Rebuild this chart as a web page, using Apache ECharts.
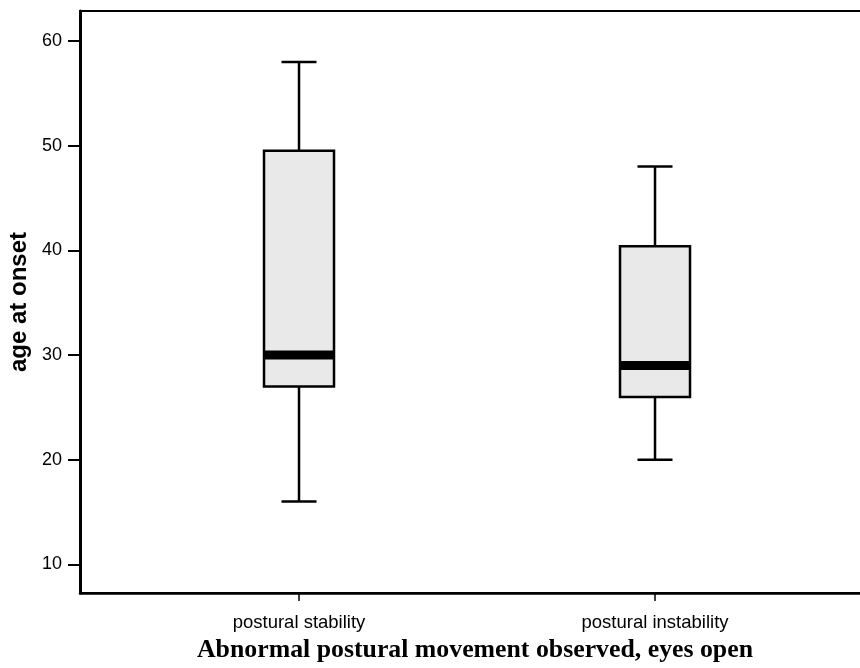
<!DOCTYPE html>
<html>
<head>
<meta charset="utf-8">
<script src="https://cdn.jsdelivr.net/npm/echarts@6/dist/echarts.min.js"></script>
<style>
  html, body { margin: 0; padding: 0; background: #fff; }
  #main { width: 860px; height: 668px; }
</style>
</head>
<body>
<div id="main"></div>
<script>
// groups on the x axis and their box-plot statistics (age at onset)
const categories = ['postural stability', 'postural instability'];
const groupPos = [1, 2];
const lowWhisker = [16, 20];
const q1 = [27, 26];
const median = [30, 29];
const q3 = [49.5, 40.4];
const highWhisker = [58, 48];
const yTicks = [10, 20, 30, 40, 50, 60];

const boxData = categories.map((c, i) => [groupPos[i], lowWhisker[i], q1[i], median[i], q3[i], highWhisker[i]]);

const BOX_W = 70;
const CAP_W = 35;
const MED_H = 9;

function renderBox(params, api) {
  const x = api.value(0);
  const low = api.coord([x, api.value(1)]);
  const p1 = api.coord([x, api.value(2)]);
  const med = api.coord([x, api.value(3)]);
  const p3 = api.coord([x, api.value(4)]);
  const high = api.coord([x, api.value(5)]);
  const cx = low[0];
  const lineStyle = { stroke: '#000', lineWidth: 2.5 };
  return {
    type: 'group',
    children: [
      { type: 'line', shape: { x1: cx, y1: high[1], x2: cx, y2: p3[1] }, style: lineStyle },
      { type: 'line', shape: { x1: cx, y1: p1[1], x2: cx, y2: low[1] }, style: lineStyle },
      { type: 'line', shape: { x1: cx - CAP_W / 2, y1: high[1], x2: cx + CAP_W / 2, y2: high[1] }, style: lineStyle },
      { type: 'line', shape: { x1: cx - CAP_W / 2, y1: low[1], x2: cx + CAP_W / 2, y2: low[1] }, style: lineStyle },
      {
        type: 'rect',
        shape: { x: cx - BOX_W / 2, y: p3[1], width: BOX_W, height: p1[1] - p3[1] },
        style: { fill: '#e9e9e9', stroke: '#000', lineWidth: 2.5 }
      },
      {
        type: 'rect',
        shape: { x: cx - BOX_W / 2, y: med[1] - MED_H / 2, width: BOX_W, height: MED_H },
        style: { fill: '#000' }
      }
    ]
  };
}

const chart = echarts.init(document.getElementById('main'), null, { renderer: 'canvas' });
chart.setOption({
  animation: false,
  backgroundColor: '#fff',
  grid: {
    left: 80,
    width: 790,
    top: 11,
    bottom: 75,
    outerBoundsMode: 'none',
    containLabel: false,
    show: true,
    borderColor: '#000',
    borderWidth: 2
  },
  xAxis: {
    type: 'value',
    min: 0.3848,
    max: 2.6039,
    splitLine: { show: false },
    axisLine: { show: true, onZero: false, lineStyle: { color: '#000', width: 2.5 } },
    axisTick: { show: true, customValues: groupPos, length: 8, lineStyle: { color: '#000', width: 1.5 } },
    axisLabel: {
      customValues: groupPos,
      formatter: v => categories[groupPos.indexOf(v)] || '',
      margin: 20,
      fontFamily: 'Liberation Sans',
      fontSize: 18.5,
      color: '#000'
    },
    name: 'Abnormal postural movement observed, eyes open',
    nameLocation: 'middle',
    nameGap: 43,
    nameTextStyle: {
      fontFamily: 'Liberation Serif',
      fontWeight: 'bold',
      fontSize: 25.8,
      color: '#000'
    }
  },
  yAxis: {
    type: 'value',
    min: 7.27,
    max: 62.86,
    splitLine: { show: false },
    axisLine: { show: true, lineStyle: { color: '#000', width: 3 } },
    axisTick: { show: true, customValues: yTicks, length: 12, lineStyle: { color: '#000', width: 2 } },
    axisLabel: {
      customValues: yTicks,
      margin: 18,
      fontFamily: 'Liberation Sans',
      fontSize: 18,
      color: '#000'
    },
    name: 'age at onset',
    nameLocation: 'middle',
    nameGap: 47,
    nameRotate: 90,
    nameTextStyle: {
      fontFamily: 'Liberation Sans',
      fontWeight: 'bold',
      fontSize: 24,
      color: '#000'
    }
  },
  series: [{
    type: 'custom',
    renderItem: renderBox,
    encode: { x: 0, y: [1, 2, 3, 4, 5] },
    data: boxData,
    clip: false
  }]
});
</script>
</body>
</html>
